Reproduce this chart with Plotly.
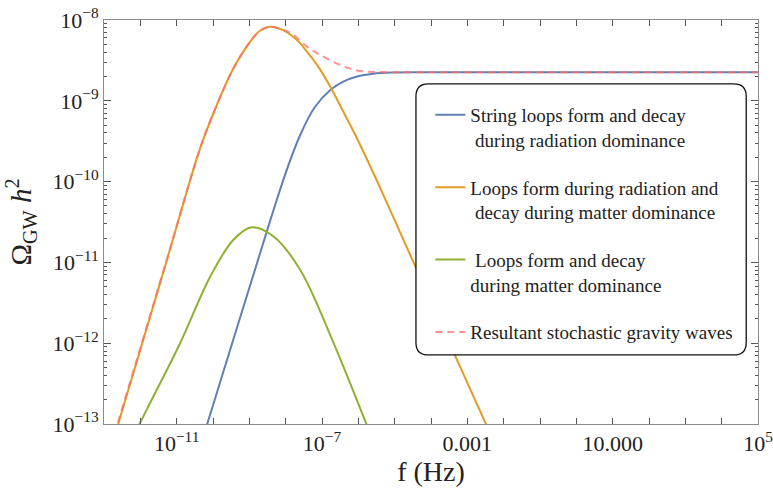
import plotly.graph_objects as go

# ---- data (log10 values) ----
blue_logf = [-10.6, -10.153, -9.5, -8.70, -8.333, -7.95, -7.60, -7.2, -6.771, -6.4, -6.035, -5.6, -5.117, -3.739, 5.0]
blue_logomega = [-13.64, -12.99, -12.04, -10.88, -10.351, -9.83, -9.423, -9.08, -8.866, -8.76, -8.70, -8.665, -8.650, -8.647, -8.647]

orange_logf = [-13.0, -12.0, -11.228, -10.354, -9.894, -9.436, -8.976, -8.7, -8.444, -8.1, -7.69, -7.413, -7.1, -6.771,
               -6.43, -6.082, -5.393, -4.428, -3.325, -2.498, -2.0]
orange_logomega = [-13.59, -12.08, -10.908, -9.588, -9.052, -8.598, -8.268, -8.13, -8.083, -8.12, -8.248, -8.392, -8.58, -8.825,
                   -9.12, -9.423, -10.083, -11.053, -12.167, -12.99, -13.49]

green_logf = [-12.6, -11.8, -10.905, -10.078, -9.436, -8.929, -8.333, -7.598, -6.68, -5.787, -5.2]
green_logomega = [-13.52, -12.8, -12.0, -11.177, -10.72, -10.566, -10.68, -11.094, -12.0, -12.99, -13.64]

total_logf = [-13.0, -12.0, -11.228, -10.354, -9.894, -9.436, -8.976, -8.7, -8.444, -8.1, -7.782, -7.413, -7.046,
              -6.495, -5.944, -5.3, -4.0, 5.0]
total_logomega = [-13.55, -12.06, -10.9, -9.585, -9.05, -8.597, -8.267, -8.13, -8.083, -8.115, -8.186, -8.33, -8.433,
                  -8.557, -8.631, -8.645, -8.647, -8.647]

names = [
    "String loops form and decay<br>\u00a0during radiation dominance",
    "Loops form during radiation and<br>\u00a0decay during matter dominance",
    "\u00a0Loops form and decay<br>during matter dominance",
    "Resultant stochastic gravity waves",
]
colors = ["#5E81B5", "#E19C24", "#8FB032", "rgba(255,110,110,0.75)"]

x_tick_exps = list(range(-13, 6))
x_tick_labels = {-11: "10<sup>\u221211</sup>", -7: "10<sup>\u22127</sup>", -3: "0.001", 1: "10.000", 5: "10<sup>5</sup>"}
y_tick_exps = [-13, -12, -11, -10, -9, -8]

SERIF = "Liberation Serif, Times New Roman, serif"

fig = go.Figure()
series = [(blue_logf, blue_logomega), (orange_logf, orange_logomega), (green_logf, green_logomega), (total_logf, total_logomega)]
for i, (lf, lo) in enumerate(series):
    fig.add_trace(go.Scatter(
        x=[10 ** v for v in lf], y=[10 ** v for v in lo], mode="lines", name=names[i],
        legendgroup=str(i),
        line=dict(color=colors[i], width=2, shape="spline", smoothing=1.0,
                  dash="7px,5px" if i == 3 else "solid"),
    ))

minor_y = [m * 10.0 ** e for e in y_tick_exps[:-1] for m in range(2, 10)]

axis_common = dict(showline=True, linecolor="#8c8c8c", linewidth=1, mirror="ticks", ticks="inside",
                   tickcolor="#555555", showgrid=False, zeroline=False,
                   ticklabeloverflow="allow",
                   tickfont=dict(family=SERIF, size=22, color="#222222"))

fig.update_xaxes(type="log", range=[-13, 5.0001], tickvals=[10.0 ** e for e in x_tick_exps],
                 ticktext=[x_tick_labels.get(e, "") for e in x_tick_exps], ticklen=6, automargin=False,
                 title=dict(text="f (Hz)", font=dict(family=SERIF, size=28, color="#222222"), standoff=0),
                 **axis_common)
fig.update_yaxes(type="log", range=[-13.0001, -7.9999], tickvals=[10.0 ** e for e in y_tick_exps],
                 ticktext=["10<sup>\u2212%d</sup>" % (-e) for e in y_tick_exps], ticklen=7, automargin="left",
                 minor=dict(tickvals=minor_y, ticks="inside", ticklen=3, tickcolor="#555555"),
                 title=dict(text="\u03a9<sub>GW</sub> <i>h</i><sup>2</sup>",
                            font=dict(family=SERIF, size=29, color="#222222"), standoff=12),
                 **axis_common)

# rounded legend frame (paper coordinates)
x0, x1, y0, y1 = 0.477, 0.982, 0.171, 0.842
rx, ry = 0.019, 0.031
path = (f"M {x0+rx},{y0} L {x1-rx},{y0} Q {x1},{y0} {x1},{y0+ry} L {x1},{y1-ry} Q {x1},{y1} {x1-rx},{y1} "
        f"L {x0+rx},{y1} Q {x0},{y1} {x0},{y1-ry} L {x0},{y0+ry} Q {x0},{y0} {x0+rx},{y0} Z")
fig.add_shape(type="path", path=path, xref="paper", yref="paper",
              line=dict(color="#111111", width=1.3), fillcolor="white", layer="above")

fig.update_layout(
    width=773, height=493,
    margin=dict(l=104, r=15, t=20, b=69),
    plot_bgcolor="white", paper_bgcolor="white",
    font=dict(family=SERIF, color="#222222"),
    showlegend=True,
    legend=dict(x=0.499, y=0.812, xanchor="left", yanchor="top", bgcolor="rgba(0,0,0,0)",
                font=dict(family=SERIF, size=19, color="#222222"),
                tracegroupgap=20, valign="top", traceorder="grouped"),
)

fig.write_html("out.html", config={"displayModeBar": False},
               post_script="document.body.style.margin='0';document.body.style.overflow='hidden';")
